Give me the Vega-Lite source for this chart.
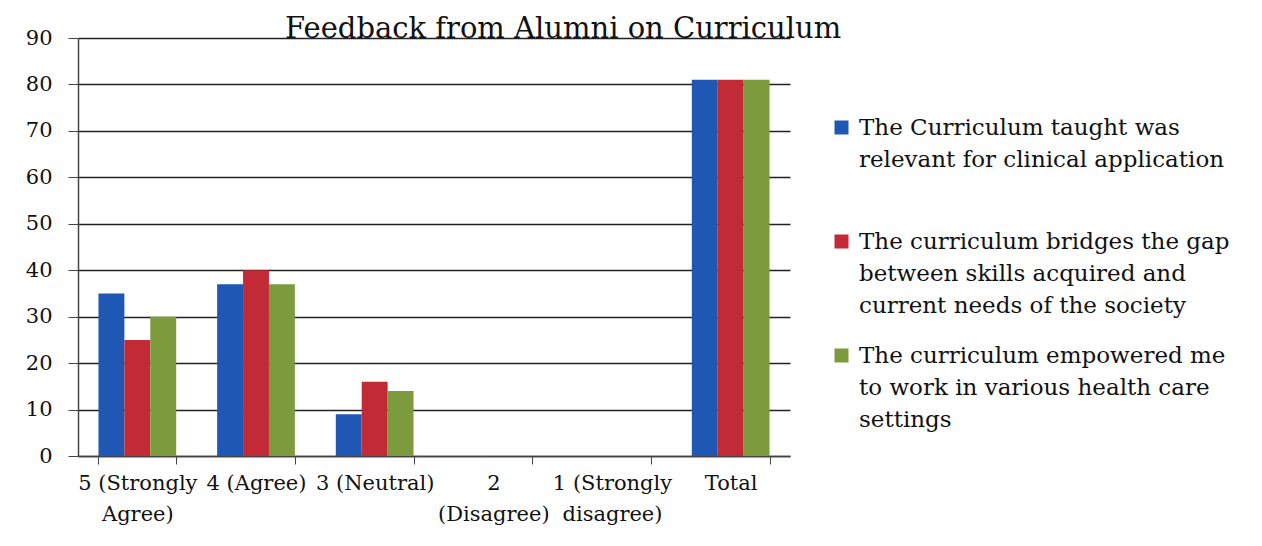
{
  "$schema": "https://vega.github.io/schema/vega-lite/v6.json",
  "width": 712,
  "height": 418,
  "autosize": {"type": "none"},
  "padding": {"left": 78, "top": 38, "right": 472, "bottom": 90},
  "background": "white",
  "title": {
    "text": "Feedback from Alumni on Curriculum",
    "frame": "group",
    "anchor": "start",
    "dx": 207,
    "offset": -17,
    "font": "DejaVu Serif",
    "fontSize": 29,
    "fontWeight": "normal",
    "color": "#111111"
  },
  "data": {
    "values": [
      {"rating": "5 (Strongly Agree)", "statement": "The Curriculum taught was relevant for clinical application", "count": 35},
      {"rating": "5 (Strongly Agree)", "statement": "The curriculum bridges the gap between skills acquired and current needs of the society", "count": 25},
      {"rating": "5 (Strongly Agree)", "statement": "The curriculum empowered me to work in various health care settings", "count": 30},
      {"rating": "4 (Agree)", "statement": "The Curriculum taught was relevant for clinical application", "count": 37},
      {"rating": "4 (Agree)", "statement": "The curriculum bridges the gap between skills acquired and current needs of the society", "count": 40},
      {"rating": "4 (Agree)", "statement": "The curriculum empowered me to work in various health care settings", "count": 37},
      {"rating": "3 (Neutral)", "statement": "The Curriculum taught was relevant for clinical application", "count": 9},
      {"rating": "3 (Neutral)", "statement": "The curriculum bridges the gap between skills acquired and current needs of the society", "count": 16},
      {"rating": "3 (Neutral)", "statement": "The curriculum empowered me to work in various health care settings", "count": 14},
      {"rating": "2 (Disagree)", "statement": "The Curriculum taught was relevant for clinical application", "count": 0},
      {"rating": "2 (Disagree)", "statement": "The curriculum bridges the gap between skills acquired and current needs of the society", "count": 0},
      {"rating": "2 (Disagree)", "statement": "The curriculum empowered me to work in various health care settings", "count": 0},
      {"rating": "1 (Strongly disagree)", "statement": "The Curriculum taught was relevant for clinical application", "count": 0},
      {"rating": "1 (Strongly disagree)", "statement": "The curriculum bridges the gap between skills acquired and current needs of the society", "count": 0},
      {"rating": "1 (Strongly disagree)", "statement": "The curriculum empowered me to work in various health care settings", "count": 0},
      {"rating": "Total", "statement": "The Curriculum taught was relevant for clinical application", "count": 81},
      {"rating": "Total", "statement": "The curriculum bridges the gap between skills acquired and current needs of the society", "count": 81},
      {"rating": "Total", "statement": "The curriculum empowered me to work in various health care settings", "count": 81}
    ]
  },
  "mark": {"type": "bar"},
  "encoding": {
    "x": {
      "field": "rating",
      "type": "nominal",
      "sort": null,
      "scale": {"paddingInner": 0.345, "paddingOuter": 0.1725},
      "axis": {
        "title": null,
        "labelAngle": 0,
        "labelFont": "DejaVu Serif",
        "labelFontSize": 21,
        "labelColor": "#111111",
        "labelLineHeight": 31,
        "labelPadding": 8,
        "labelBaseline": "top",
        "tickBand": "extent",
        "tickSize": 8,
        "tickColor": "#444444",
        "domainColor": "#444444",
        "domainWidth": 1.5,
        "labelExpr": "datum.label == '5 (Strongly Agree)' ? ['5 (Strongly', 'Agree)'] : datum.label == '2 (Disagree)' ? ['2', '(Disagree)'] : datum.label == '1 (Strongly disagree)' ? ['1 (Strongly', 'disagree)'] : datum.label"
      }
    },
    "xOffset": {"field": "statement", "type": "nominal", "sort": null, "scale": {"paddingInner": 0, "paddingOuter": 0}},
    "y": {
      "field": "count",
      "type": "quantitative",
      "scale": {"domain": [0, 90]},
      "axis": {
        "title": null,
        "values": [0, 10, 20, 30, 40, 50, 60, 70, 80, 90],
        "labelFont": "DejaVu Serif",
        "labelFontSize": 21,
        "labelColor": "#111111",
        "labelPadding": 16,
        "tickSize": 10,
        "tickColor": "#444444",
        "domainColor": "#444444",
        "domainWidth": 1.5,
        "grid": true,
        "gridColor": "#222222",
        "gridWidth": 1.5
      }
    },
    "color": {
      "field": "statement",
      "type": "nominal",
      "sort": null,
      "scale": {"range": ["#1f57b5", "#c22a35", "#7c9b3d"]},
      "legend": {
        "title": null,
        "orient": "none",
        "legendX": 752,
        "legendY": 85,
        "symbolType": "M-1,-2H1V0H-1Z",
        "symbolSize": 196,
        "symbolStrokeWidth": 0,
        "labelFont": "DejaVu Serif",
        "labelFontSize": 23,
        "labelColor": "#111111",
        "labelBaseline": "alphabetic",
        "labelOffset": 6,
        "labelLimit": 420,
        "rowPadding": 26,
        "labelExpr": "datum.label == 'The Curriculum taught was relevant for clinical application' ? ['The Curriculum taught was', 'relevant for clinical application', ' '] : datum.label == 'The curriculum bridges the gap between skills acquired and current needs of the society' ? ['The curriculum bridges the gap', 'between skills acquired and', 'current needs of the society'] : ['The curriculum empowered me', 'to work in various health care', 'settings']"
      }
    }
  },
  "config": {
    "view": {"stroke": null},
    "style": {"guide-label": {"lineHeight": 32}}
  }
}
